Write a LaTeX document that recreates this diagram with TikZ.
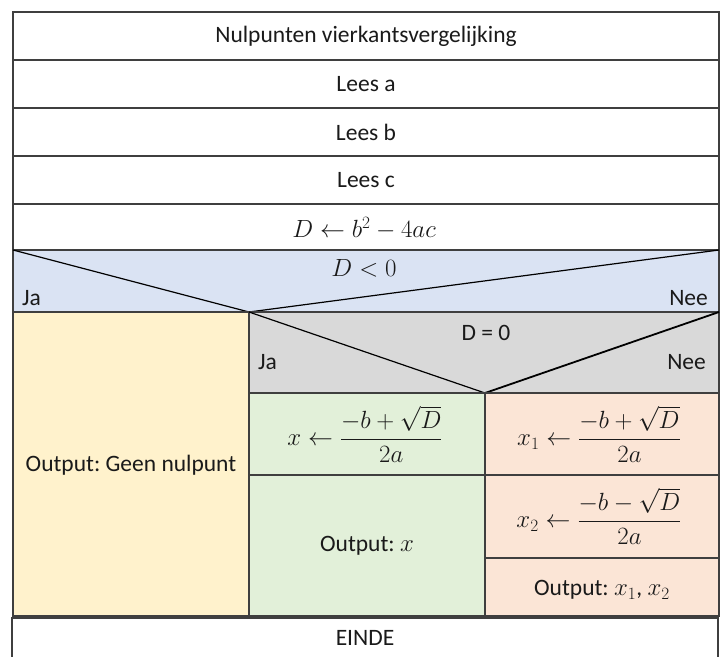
\documentclass[tikz,border=0pt]{standalone}
\usepackage{amsmath}
\usepackage{fontspec}
\setmainfont{Carlito}
\frenchspacing
\definecolor{edge}{HTML}{3F3F3F}
\definecolor{ink}{HTML}{1A1A1A}
\definecolor{fblue}{HTML}{DAE3F3}
\definecolor{fyellow}{HTML}{FFF2CC}
\definecolor{fgray}{HTML}{D9D9D9}
\definecolor{fgreen}{HTML}{E2F0D9}
\definecolor{forange}{HTML}{FBE5D6}
\begin{document}
\begin{tikzpicture}[x=1pt,y=-1pt,
  box/.style={draw=edge, line width=1.4pt},
  diag/.style={draw=black, line width=1.2pt},
  lbl/.style={font=\fontsize{23.5}{28}\selectfont, inner sep=0pt, text=ink}]
\useasboundingbox (0,0) rectangle (722,656);
\clip (0,0) rectangle (722,656);
% fills
\fill[white] (13,12) rectangle (719,250);
\fill[fblue] (13,250) rectangle (719,312);
\fill[fyellow] (13,312) rectangle (249,616);
\fill[fgray] (249,312) rectangle (719,393);
\fill[fgreen] (249,393) rectangle (485,616);
\fill[forange] (485,393) rectangle (719,616);
\fill[white] (12,618) rectangle (718,670);
% sequence boxes
\draw[box] (13,12) rectangle (719,60);
\draw[box] (13,60) rectangle (719,108);
\draw[box] (13,108) rectangle (719,156);
\draw[box] (13,156) rectangle (719,204);
\draw[box] (13,204) rectangle (719,250);
% decision D<0
\draw[box] (13,250) rectangle (719,312);
\draw[diag] (13,250) -- (249,312) -- (719,250);
% left branch
\draw[box] (13,312) rectangle (249,616);
% decision D=0
\draw[box] (249,312) rectangle (719,393);
\draw[diag] (249,312) -- (485,393);
\draw[diag, line width=1.8pt] (485,393) -- (719,312);
% green
\draw[box] (249,393) rectangle (485,475);
\draw[box] (249,475) rectangle (485,616);
% orange
\draw[box] (485,393) rectangle (719,475);
\draw[box] (485,475) rectangle (719,558);
\draw[box] (485,558) rectangle (719,616);
% EINDE
\draw[box] (12,670) -- (12,618) -- (718,618) -- (718,670);
% texts
\node[lbl] (title) at (366,36) {Nulpunten vierkantsvergelijking};
\node[lbl] (la) at (366,84) {Lees a};
\node[lbl] (lb) at (366,132) {Lees b};
\node[lbl] (lc) at (366,180) {Lees c};
\node[lbl] (disc) at (364,228) {$D \leftarrow b^2 - 4ac$};
\node[lbl] (c1) at (364,268) {$D < 0$};
\node[lbl, anchor=west] (ja1) at (22,298) {Ja};
\node[lbl, anchor=east] (nee1) at (708,298) {Nee};
\node[lbl] (geen) at (131,465) {Output: Geen nulpunt};
\node[lbl] (c2) at (486,333) {D = 0};
\node[lbl, anchor=west] (ja2) at (258,362) {Ja};
\node[lbl, anchor=east] (nee2) at (706,362) {Nee};
\node[lbl] (fx) at (365,434) {$x \leftarrow \dfrac{-b+\sqrt{D}}{2a}$};
\node[lbl] (ox) at (367,546) {Output: $x$};
\node[lbl] (fx1) at (599,434) {$x_1 \leftarrow \dfrac{-b+\sqrt{D}}{2a}$};
\node[lbl] (fx2) at (599,516) {$x_2 \leftarrow \dfrac{-b-\sqrt{D}}{2a}$};
\node[lbl] (ox12) at (602,590) {Output: $x_1$, $x_2$};
\node[lbl] (einde) at (365,638) {EINDE};
\end{tikzpicture}
\end{document}
